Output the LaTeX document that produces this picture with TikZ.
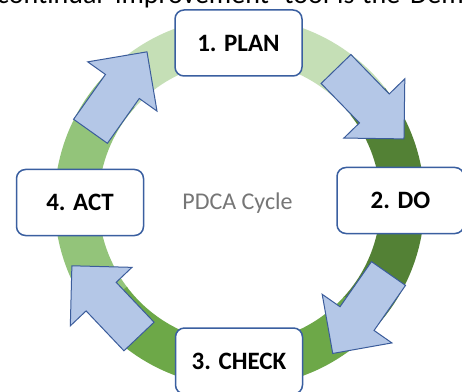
\documentclass[tikz,border=0pt]{standalone}
\usepackage{fontspec}
\setmainfont{Carlito}
\definecolor{boxblue}{HTML}{3A5FA0}
\definecolor{arrowfill}{HTML}{B4C7E7}
\definecolor{arrowline}{HTML}{3B5C9B}
\definecolor{ringplan}{HTML}{C5DFB6}
\definecolor{ringdo}{HTML}{538135}
\definecolor{ringcheck}{HTML}{6DA848}
\definecolor{ringact}{HTML}{93C47A}
\definecolor{labelgray}{HTML}{767676}
\tikzset{
  stage/.style={draw=boxblue, line width=1.5pt, fill=white, rounded corners=9pt,
    minimum width=127pt, minimum height=66pt, inner sep=0pt,
    font=\fontsize{25}{30}\selectfont\bfseries},
  runword/.style={anchor=base west, inner sep=0pt, font=\fontsize{28}{33}\selectfont},
  cyclearrow/.pic={
    \draw[fill=arrowfill, draw=arrowline, line width=1pt, line join=miter]
      (0,-20.75) -- (55,-20.75) -- (55,-42.5) -- (97.5,0) -- (55,42.5)
      -- (55,20.75) -- (0,20.75) -- cycle;
  }
}
\begin{document}
\begin{tikzpicture}[x=1pt,y=1pt]
\useasboundingbox (0,0) rectangle (462,391);
\fill[white] (0,0) rectangle (462,391);

% justified running text of the surrounding page, cut off by the top edge
\node[runword] (w1) at (-3,387.5) {continual};
\node[runword] (w2) at (115,387.5) {improvement};
\node[runword] (w3) at (284,387.5) {tool};
\node[runword] (w4) at (337,387.5) {is};
\node[runword] (w5) at (362,387.5) {the};
\node[runword] (w6) at (410,387.5) {Deming};

% the ring, one coloured sector per stage (centre 239.5,189; radii 141..185)
\fill[ringdo]    (239.5,189) ++(-42.5:185) arc[start angle=-42.5, end angle=38.5, radius=185]
  -- ++(38.5:-44) arc[start angle=38.5, end angle=-42.5, radius=141] -- cycle;
\fill[ringplan]  (239.5,189) ++(38:185) arc[start angle=38, end angle=138.5, radius=185]
  -- ++(138.5:-44) arc[start angle=138.5, end angle=38, radius=141] -- cycle;
\fill[ringact]   (239.5,189) ++(138:185) arc[start angle=138, end angle=217.5, radius=185]
  -- ++(217.5:-44) arc[start angle=217.5, end angle=138, radius=141] -- cycle;
\fill[ringcheck] (239.5,189) ++(217:185) arc[start angle=217, end angle=318, radius=185]
  -- ++(318:-44) arc[start angle=318, end angle=217, radius=141] -- cycle;

% block arrows between the stages
\pic[rotate=-45.8]  at (336,322)   {cyclearrow};
\pic[rotate=-124.9] at (388.5,117.5) {cyclearrow};
\pic[rotate=133.5]  at (139,54.5)  {cyclearrow};
\pic[rotate=54.6]   at (90.5,259.7) {cyclearrow};

% stages
\node[stage] (plan)  at (238.5,348) {1. PLAN};
\node[stage] (do)    at (400.5,190.5) {2. DO};
\node[stage] (check) at (239,30) {3. CHECK};
\node[stage] (act)   at (80,188.5) {4. ACT};

\node[text=labelgray, font=\fontsize{24}{29}\selectfont, inner sep=0pt] (title)
  at (237.5,188) {PDCA Cycle};
\end{tikzpicture}
\end{document}
